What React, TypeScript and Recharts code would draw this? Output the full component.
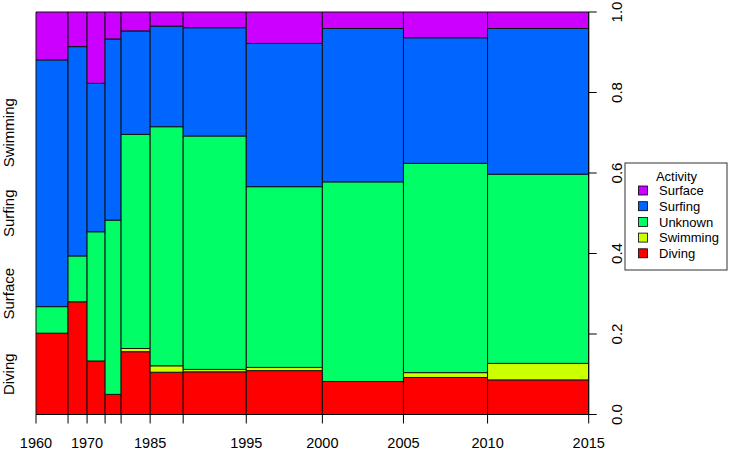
import React from "react";
import { ComposedChart, XAxis, YAxis, ReferenceArea, Line } from "recharts";

// Period breaks (years) and which labels R kept visible
const breakYears = [1960, 1965, 1970, 1975, 1980, 1985, 1990, 1995, 2000, 2005, 2010, 2015];
const shownYearLabels = ["1960", "", "1970", "", "", "1985", "", "1995", "2000", "2005", "2010", "2015"];

// Number of records per period (bar widths)
const counts = [32, 19, 18, 16, 29, 33, 63, 76, 81, 84, 101];

// Proportions per period, stacked bottom to top
const diving = [0.202, 0.28, 0.133, 0.05, 0.156, 0.105, 0.106, 0.109, 0.082, 0.092, 0.086];
const swimming = [0, 0, 0, 0, 0.008, 0.016, 0.006, 0.008, 0, 0.012, 0.041];
const unknown = [0.066, 0.114, 0.321, 0.433, 0.532, 0.594, 0.58, 0.449, 0.496, 0.52, 0.47];
const surfing = [0.613, 0.52, 0.369, 0.45, 0.257, 0.25, 0.269, 0.356, 0.381, 0.312, 0.362];
const surface = [0.119, 0.086, 0.177, 0.067, 0.047, 0.035, 0.039, 0.078, 0.041, 0.064, 0.041];

const categories = ["Diving", "Swimming", "Unknown", "Surfing", "Surface"];
const seriesValues = [diving, swimming, unknown, surfing, surface];
const colors = ["#FF0000", "#CCFF00", "#00FF66", "#0066FF", "#CC00FF"];

const legendOrder = ["Surface", "Surfing", "Unknown", "Swimming", "Diving"];
const leftLabels = ["Diving", "Surface", "Surfing", "Swimming"];
const leftLabelPos = [0.1, 0.3, 0.5, 0.7];
const yTicks = [0, 0.2, 0.4, 0.6, 0.8, 1];

const cum: number[] = [0];
counts.forEach((c) => cum.push(cum[cum.length - 1] + c));
const total = cum[cum.length - 1];

const data = counts.map((c, i) => ({ x: cum[i] + c / 2, y: 0.5, period: breakYears[i] }));

const FONT = "'Liberation Sans', Arial, Helvetica, sans-serif";

const XTick = (props: any) => {
  const { x, payload } = props;
  const idx = cum.indexOf(payload.value);
  const label = idx >= 0 ? shownYearLabels[idx] : "";
  return (
    <text x={x} y={447.5} textAnchor="middle" fontSize={14.5} fontFamily={FONT} fill="#000">
      {label}
    </text>
  );
};

const RightTick = (props: any) => {
  const { y, payload } = props;
  const tx = 622;
  return (
    <text
      x={tx}
      y={y}
      textAnchor="middle"
      fontSize={15}
      fontFamily={FONT}
      fill="#000"
      transform={`rotate(-90, ${tx}, ${y})`}
    >
      {Number(payload.value).toFixed(1)}
    </text>
  );
};

const LeftTick = (props: any) => {
  const { y, payload } = props;
  const idx = leftLabelPos.indexOf(payload.value);
  const tx = 13.5;
  return (
    <text
      x={tx}
      y={y}
      textAnchor="middle"
      fontSize={15}
      fontFamily={FONT}
      fill="#000"
      transform={`rotate(-90, ${tx}, ${y})`}
    >
      {idx >= 0 ? leftLabels[idx] : ""}
    </text>
  );
};

const LegendBox = () => (
  <svg
    width={104}
    height={110}
    style={{ position: "absolute", left: 624, top: 162 }}
  >
    <rect x={1} y={1} width={102} height={107} fill="#fff" stroke="#333" strokeWidth={1} />
    <text x={52.5} y={19} textAnchor="middle" fontSize={13} fontFamily={FONT} fill="#000">
      Activity
    </text>
    {legendOrder.map((name, i) => {
      const ci = categories.indexOf(name);
      const cy = 28.5 + i * 15.7;
      return (
        <g key={name}>
          <rect x={14.5} y={cy - 4.5} width={9} height={9} fill={colors[ci]} stroke="#000" strokeWidth={0.8} />
          <text x={35} y={cy + 4.6} fontSize={13} fontFamily={FONT} fill="#000">
            {name}
          </text>
        </g>
      );
    })}
  </svg>
);

export default function App() {
  const areas: React.ReactNode[] = [];
  counts.forEach((_, i) => {
    let base = 0;
    seriesValues.forEach((vals, k) => {
      const v = vals[i];
      if (v > 0) {
        areas.push(
          <ReferenceArea
            key={`a-${i}-${k}`}
            yAxisId="right"
            x1={cum[i]}
            x2={cum[i + 1]}
            y1={base}
            y2={Math.min(1, base + v)}
            fill={colors[k]}
            fillOpacity={1}
            stroke="#111"
            strokeWidth={1}
            strokeOpacity={1}
            ifOverflow="extendDomain"
          />
        );
      }
      base += v;
    });
  });

  return (
    <div style={{ position: "absolute", left: 0, top: 0, width: 729, height: 451, background: "#fff" }}>
      <ComposedChart
        width={729}
        height={451}
        data={data}
        margin={{ top: 12, right: 0, bottom: 0, left: 0 }}
      >
        <XAxis
          dataKey="x"
          type="number"
          domain={[0, total]}
          ticks={cum}
          interval={0}
          height={36.5}
          tickSize={9}
          axisLine={{ stroke: "#000" }}
          tickLine={{ stroke: "#000" }}
          tick={<XTick />}
          allowDataOverflow
        />
        <YAxis
          yAxisId="left"
          orientation="left"
          width={36}
          type="number"
          domain={[0, 1]}
          ticks={leftLabelPos}
          interval={0}
          axisLine={false}
          tickLine={false}
          tick={<LeftTick />}
        />
        <YAxis
          yAxisId="right"
          orientation="right"
          width={140.3}
          type="number"
          domain={[0, 1]}
          ticks={yTicks}
          interval={0}
          tickSize={8}
          axisLine={{ stroke: "#000" }}
          tickLine={{ stroke: "#000" }}
          tick={<RightTick />}
        />
        {areas}
        <Line
          yAxisId="right"
          dataKey="y"
          stroke="none"
          dot={false}
          activeDot={false}
          isAnimationActive={false}
          legendType="none"
        />
        <Line
          yAxisId="left"
          dataKey="y"
          stroke="none"
          dot={false}
          activeDot={false}
          isAnimationActive={false}
          legendType="none"
        />
      </ComposedChart>
      <LegendBox />
    </div>
  );
}
